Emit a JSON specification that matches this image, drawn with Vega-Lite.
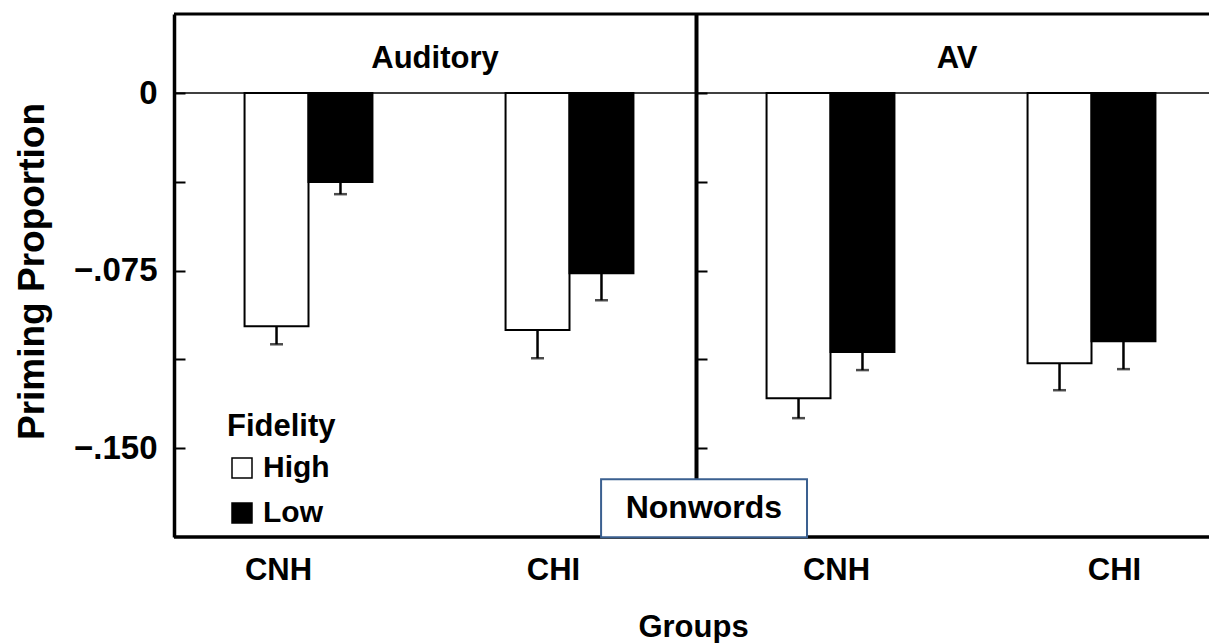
{
  "$schema": "https://vega.github.io/schema/vega-lite/v6.json",
  "width": 1035,
  "height": 523,
  "autosize": {"type": "none"},
  "padding": {"left": 174, "top": 14, "right": 0, "bottom": 106},
  "background": "white",
  "config": {"view": {"stroke": null}, "font": "Liberation Sans"},
  "datasets": {
    "bars": [
      {"cell": "Auditory CNH", "panel": "Auditory", "group": "CNH", "fidelity": "High", "value": -0.0985, "err": -0.1061},
      {"cell": "Auditory CNH", "panel": "Auditory", "group": "CNH", "fidelity": "Low", "value": -0.0376, "err": -0.0427},
      {"cell": "Auditory CHI", "panel": "Auditory", "group": "CHI", "fidelity": "High", "value": -0.1001, "err": -0.1120},
      {"cell": "Auditory CHI", "panel": "Auditory", "group": "CHI", "fidelity": "Low", "value": -0.0761, "err": -0.0875},
      {"cell": "AV CNH", "panel": "AV", "group": "CNH", "fidelity": "High", "value": -0.1289, "err": -0.1373},
      {"cell": "AV CNH", "panel": "AV", "group": "CNH", "fidelity": "Low", "value": -0.1094, "err": -0.1170},
      {"cell": "AV CHI", "panel": "AV", "group": "CHI", "fidelity": "High", "value": -0.1141, "err": -0.1255},
      {"cell": "AV CHI", "panel": "AV", "group": "CHI", "fidelity": "Low", "value": -0.1048, "err": -0.1166}
    ],
    "panels": [
      {"panel": "Auditory"},
      {"panel": "AV"}
    ]
  },
  "layer": [
    {
      "data": {"name": "bars"},
      "encoding": {
        "x": {
          "field": "cell", "type": "nominal",
          "sort": ["Auditory CNH", "Auditory CHI", "AV CNH", "AV CHI"],
          "scale": {"range": [4, 1048], "paddingInner": 0.51, "paddingOuter": 0.255},
          "axis": {
            "orient": "bottom", "domain": false, "ticks": false, "labelAngle": 0,
            "labelExpr": "split(datum.label, ' ')[1]",
            "labelOffset": {
              "condition": [
                {"test": "datum.value == 'Auditory CNH'", "value": -30},
                {"test": "datum.value == 'Auditory CHI'", "value": -16},
                {"test": "datum.value == 'AV CNH'", "value": 6}
              ],
              "value": 23
            },
            "labelFontSize": 31, "labelFontWeight": "bold", "labelColor": "black", "labelPadding": 18,
            "title": "Groups", "titleFontSize": 31, "titleFontWeight": "bold", "titleColor": "black", "titlePadding": 27,
            "titleX": 519
          }
        },
        "xOffset": {
          "field": "fidelity", "type": "nominal", "sort": ["High", "Low"],
          "scale": {"paddingInner": 0, "paddingOuter": 0}
        }
      },
      "layer": [
        {
          "mark": {"type": "bar", "stroke": "black", "strokeWidth": 2},
          "encoding": {
            "y": {
              "field": "value", "type": "quantitative",
              "scale": {"domain": [-0.1875, 0.0334], "nice": false, "zero": false},
              "axis": null
            },
            "fill": {
              "field": "fidelity", "type": "nominal",
              "scale": {"domain": ["High", "Low"], "range": ["white", "black"]},
              "legend": {
                "title": "Fidelity", "orient": "none", "legendX": 53, "legendY": 398, "padding": 0,
                "symbolType": "square", "symbolSize": 400, "symbolStrokeColor": "black", "symbolStrokeWidth": 1.5,
                "labelFontSize": 30, "labelFontWeight": "bold", "labelColor": "black", "labelOffset": 6,
                "titleFontSize": 31, "titleFontWeight": "bold", "titleColor": "black", "titlePadding": 10,
                "rowPadding": 15
              }
            }
          }
        },
        {
          "mark": {"type": "rule", "color": "black", "strokeWidth": 2.5},
          "encoding": {
            "y": {"field": "value", "type": "quantitative", "axis": null},
            "y2": {"field": "err"}
          }
        },
        {
          "mark": {"type": "tick", "color": "black", "thickness": 2.5, "size": 13},
          "encoding": {
            "y": {"field": "err", "type": "quantitative", "axis": null}
          }
        }
      ]
    },
    {
      "data": {"name": "panels"},
      "mark": {"type": "text", "fontSize": 31, "fontWeight": "bold", "color": "black", "baseline": "middle", "align": "center"},
      "encoding": {
        "x": {
          "field": "panel", "type": "nominal", "sort": ["Auditory", "AV"],
          "scale": {"range": [0, 1044], "paddingInner": 0, "paddingOuter": 0},
          "axis": null
        },
        "y": {"datum": 0.0144, "type": "quantitative", "axis": null},
        "text": {"field": "panel"}
      }
    },
    {
      "data": {"values": [{}]},
      "mark": {"type": "rule", "color": "black", "strokeWidth": 1.5},
      "encoding": {
        "y": {
          "datum": 0, "type": "quantitative",
          "axis": {
            "orient": "right", "offset": -513, "values": [0, -0.0375, -0.075, -0.1125, -0.15],
            "grid": false, "labels": false, "title": null,
            "domainColor": "black", "domainWidth": 4,
            "tickColor": "black", "tickWidth": 2, "tickSize": 11
          }
        }
      }
    },
    {
      "data": {"values": [{}]},
      "mark": {"type": "rule", "color": "black", "strokeWidth": 3},
      "encoding": {
        "y": {
          "datum": 0.0334, "type": "quantitative",
          "axis": {
            "orient": "left", "values": [0, -0.075, -0.15],
            "grid": false, "domain": false, "ticks": false,
            "labelExpr": "datum.value == 0 ? '0' : abs(datum.value + 0.075) < 0.0001 ? '−.075' : '−.150'",
            "labelFontSize": 33, "labelFontWeight": "bold", "labelColor": "black", "labelPadding": 17,
            "title": "Priming Proportion", "titleFontSize": 37, "titleFontWeight": "bold", "titleColor": "black",
            "titleX": -142, "titleY": 257, "titleAngle": -90, "titleAlign": "center", "titleBaseline": "middle"
          }
        }
      }
    },
    {
      "data": {"values": [{}]},
      "mark": {"type": "rule", "color": "black", "strokeWidth": 3.5},
      "encoding": {
        "y": {
          "datum": -0.1875, "type": "quantitative",
          "axis": {
            "orient": "right", "offset": -1035, "values": [0, -0.0375, -0.075, -0.1125, -0.15],
            "grid": false, "labels": false, "title": null,
            "domainColor": "black", "domainWidth": 3.5,
            "tickColor": "black", "tickWidth": 2, "tickSize": 11
          }
        }
      }
    },
    {
      "data": {"values": [{}]},
      "layer": [
        {
          "mark": {"type": "rect", "fill": "white", "stroke": "#3B6090", "strokeWidth": 2},
          "encoding": {
            "x": {"datum": 1.621, "type": "quantitative", "scale": {"domain": [0, 4], "range": [4, 1048]}, "axis": null},
            "x2": {"datum": 2.41},
            "y": {"datum": -0.1631, "type": "quantitative", "axis": null},
            "y2": {"datum": -0.1876}
          }
        },
        {
          "mark": {"type": "text", "fontSize": 32, "fontWeight": "bold", "color": "black", "align": "center", "baseline": "middle"},
          "encoding": {
            "x": {"datum": 2.015, "type": "quantitative", "axis": null},
            "y": {"datum": -0.1753, "type": "quantitative", "axis": null},
            "text": {"value": "Nonwords"}
          }
        }
      ]
    }
  ],
  "resolve": {
    "scale": {"x": "independent"},
    "axis": {"x": "independent", "y": "independent"}
  }
}
